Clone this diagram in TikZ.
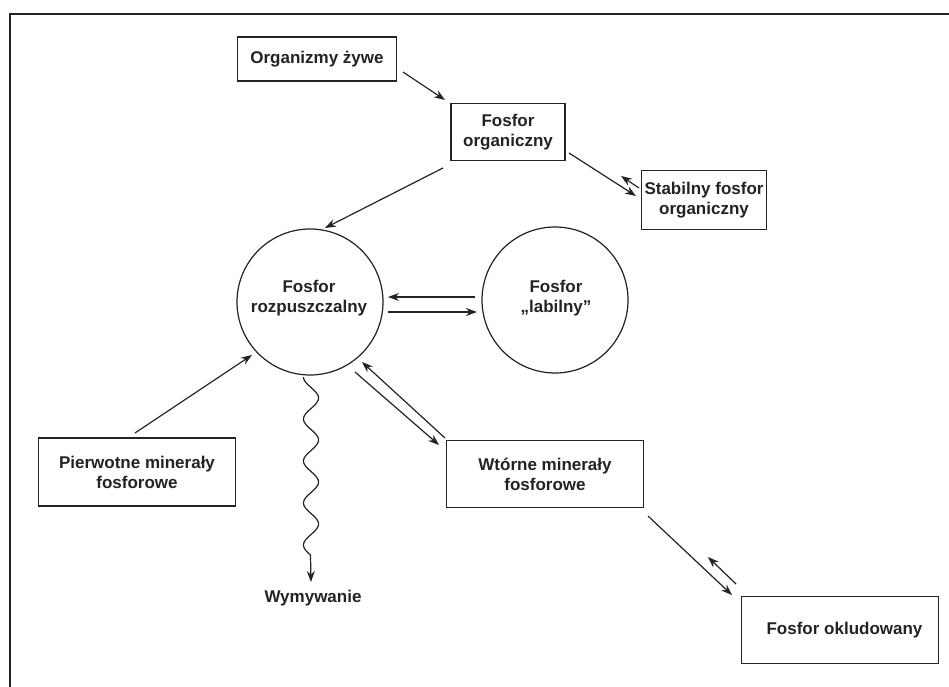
\documentclass[tikz,border=0pt]{standalone}
\usepackage{fontspec}
\setmainfont{Liberation Sans}
\usetikzlibrary{arrows.meta,calc}
\definecolor{ink}{RGB}{35,35,35}
\begin{document}
\begin{tikzpicture}[x=1pt,y=-1pt,
  every node/.style={text=ink},
  box/.style={draw=ink, line width=1.4pt, align=center, inner sep=0pt,
    font=\bfseries\fontsize{17}{20}\selectfont},
  blob/.style={draw=ink, line width=1.2pt, circle, minimum size=146pt, align=center, inner sep=0pt,
    font=\bfseries\fontsize{17}{20}\selectfont},
  lbl/.style={align=center, inner sep=0pt, font=\bfseries\fontsize{17}{20}\selectfont},
  arr/.style={draw=ink, line width=1.2pt, -{Stealth[length=11pt,width=8pt]}}]
\useasboundingbox (0,0) rectangle (949,687);
\fill[white] (0,0) rectangle (949,687);
% frame
\draw[ink, line width=2.6pt] (10,687) -- (10,14) -- (949,14);
% nodes
\node[box, minimum width=159pt, minimum height=44pt] (org) at (317,59) {Organizmy żywe};
\node[box, minimum width=114pt, minimum height=57pt] (fo) at (508,132) {Fosfor\\organiczny};
\node[box, minimum width=125pt, minimum height=59pt] (st) at (704,200) {Stabilny fosfor\\organiczny};
\node[blob] (roz) at (310,302) {};
\node[lbl] (rozt) at (309,298) {Fosfor\\rozpuszczalny};
\node[blob] (lab) at (555,300) {};
\node[lbl] (labt) at (556,298) {Fosfor\\„labilny”};
\node[box, minimum width=197pt, minimum height=68pt] (pier) at (137,472) {Pierwotne minerały\\fosforowe};
\node[box, minimum width=197pt, minimum height=67pt] (wt) at (545,474) {Wtórne minerały\\fosforowe};
\node[box, minimum width=197pt, minimum height=67pt] (ok) at (840,630) {\hspace*{9pt}Fosfor okludowany};
\node[lbl] (wym) at (313,598) {Wymywanie};
% connector end points
\coordinate (a1) at (403,72);  \coordinate (a2) at (445,100);
\coordinate (b1) at (443,168); \coordinate (b2) at (325,228);
\coordinate (c1) at (569,153); \coordinate (c2) at (636,196);
\coordinate (d1) at (639,188); \coordinate (d2) at (621,176);
\coordinate (e1) at (475,297); \coordinate (e2) at (388,297);
\coordinate (f1) at (388,312); \coordinate (f2) at (477,312);
\coordinate (g1) at (135,433); \coordinate (g2) at (252,355);
\coordinate (h1) at (355,372); \coordinate (h2) at (439,445);
\coordinate (i1) at (445,438); \coordinate (i2) at (362,362);
\coordinate (j1) at (648,516); \coordinate (j2) at (732,595);
\coordinate (k1) at (736,584); \coordinate (k2) at (708,557);
\coordinate (w2) at (310.5,555); \coordinate (w3) at (311,582);
% connectors
\draw[arr] (a1) -- (a2);
\draw[arr] (b1) -- (b2);
\draw[arr] (c1) -- (c2);
\draw[arr] (d1) -- (d2);
\draw[arr] (e1) -- (e2);
\draw[arr] (f1) -- (f2);
\draw[arr] (g1) -- (g2);
\draw[arr] (h1) -- (h2);
\draw[arr] (i1) -- (i2);
\draw[arr] (j1) -- (j2);
\draw[arr] (k1) -- (k2);
\draw[ink, line width=1.2pt, domain=0:178, samples=160, smooth, variable=\t]
  plot ({311-7.5*cos(8.5714*\t)},{377+\t});
\draw[arr] (w2) -- (w3);
\end{tikzpicture}
\end{document}
